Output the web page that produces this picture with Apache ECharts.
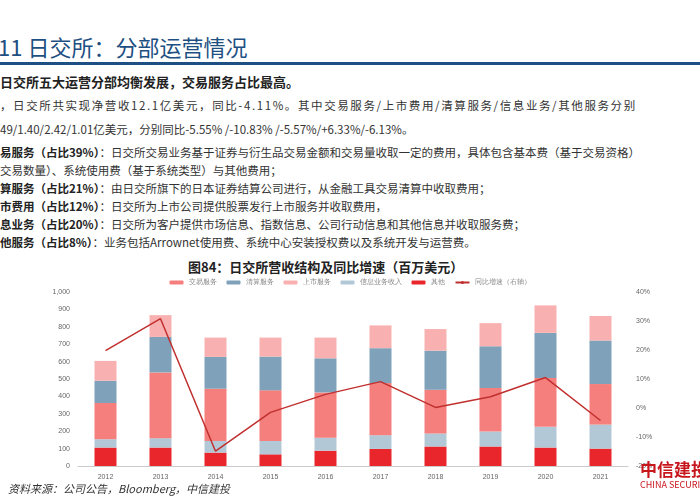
<!DOCTYPE html>
<html><head><meta charset="utf-8">
<script src="https://cdn.jsdelivr.net/npm/echarts@6/dist/echarts.min.js"></script>
<style>
body{margin:0;width:700px;height:500px;background:#fff;position:relative;overflow:hidden;font-family:"Noto Sans CJK SC",sans-serif;}
.t{position:absolute;white-space:nowrap;color:#333;font-size:11.5px;}
.b{font-weight:bold;color:#222;}
</style></head><body>
<div class="t" style="left:-8px;top:30px;font-size:22px;color:#1d4f82;">.11 日交所：分部运营情况</div>
<div style="position:absolute;left:0;top:62px;width:700px;height:3px;background:#1d4f82;"></div>
<div class="t b" style="left:0;top:72px;font-size:13px;">日交所五大运营分部均衡发展，交易服务占比最高。</div>
<div class="t" style="left:0;top:97px;letter-spacing:1.6px;">，日交所共实现净营收12.1亿美元，同比-4.11%。其中交易服务/上市费用/清算服务/信息业务/其他服务分别</div>
<div class="t" style="left:0;top:121px;">49/1.40/2.42/1.01亿美元，分别同比-5.55% /-10.83% /-5.57%/+6.33%/-6.13%。</div>
<div class="t" style="left:0;top:144px;"><span class="b">易服务（占比39%）</span>：日交所交易业务基于证券与衍生品交易金额和交易量收取一定的费用，具体包含基本费（基于交易资格）</div>
<div class="t" style="left:0;top:162px;">交易数量）、系统使用费（基于系统类型）与其他费用；</div>
<div class="t" style="left:0;top:180px;"><span class="b">算服务（占比21%）</span>：由日交所旗下的日本证券结算公司进行，从金融工具交易清算中收取费用；</div>
<div class="t" style="left:0;top:198px;"><span class="b">市费用（占比12%）</span>：日交所为上市公司提供股票发行上市服务并收取费用，</div>
<div class="t" style="left:0;top:216px;"><span class="b">息业务（占比20%）</span>：日交所为客户提供市场信息、指数信息、公司行动信息和其他信息并收取服务费；</div>
<div class="t" style="left:0;top:234px;"><span class="b">他服务（占比8%）</span>：业务包括Arrownet使用费、系统中心安装授权费以及系统开发与运营费。</div>
<div class="t b" style="left:188px;top:257px;font-size:13px;">图84：日交所营收结构及同比增速（百万美元）</div>
<div id="c" style="position:absolute;left:0;top:270px;width:700px;height:215px;"></div>
<div class="t" style="left:8px;top:480px;font-style:italic;font-size:11px;">资料来源：公司公告，Bloomberg，中信建投</div>
<div class="t b" style="left:640px;top:456px;font-size:17px;color:#c8161d;">中信建投</div>
<div class="t" style="left:640px;top:478px;font-size:9px;color:#c8161d;">CHINA SECURITIES</div>
<script>
var years=['2012','2013','2014','2015','2016','2017','2018','2019','2020','2021'];
var other=[106,106,77,67,88,98,112,112,106,100];
var info=[48,54,67,77,75,79,75,86,119,138];
var trade=[208,378,300,291,260,300,251,250,281,233];
var clearing=[128,204,183,194,196,200,225,240,259,250];
var listing=[114,125,111,109,119,131,124,133,158,141];
var growth=[19.8,30.8,-14.9,-1.5,4.7,9.1,0.2,3.9,10.5,-4.3];
var ch=echarts.init(document.getElementById('c'));
function bar(n,d,c){return{name:n,type:'bar',stack:'a',data:d,barWidth:22,itemStyle:{color:c}};}
var lab={fontSize:7,color:'#666'};
ch.setOption({
 animation:false,
 legend:{top:4,left:'center',itemWidth:14,itemHeight:4,itemGap:10,textStyle:{fontSize:7,color:'#888'},
  data:['交易服务','清算服务','上市服务','信息业务收入','其他','同比增速（右轴）']},
 grid:{left:78,right:72,top:22,bottom:19},
 xAxis:{type:'category',data:years,axisLine:{lineStyle:{color:'#ccc'}},axisTick:{show:false},axisLabel:lab},
 yAxis:[{type:'value',min:0,max:1000,interval:100,splitLine:{show:false},axisLabel:lab},
  {type:'value',min:-20,max:40,interval:10,splitLine:{show:false},axisLabel:Object.assign({formatter:'{value}%'},lab)}],
 series:[bar('其他',other,'#e8262b'),bar('信息业务收入',info,'#b3c8d6'),bar('交易服务',trade,'#f47f7c'),
  bar('清算服务',clearing,'#7fa2ba'),bar('上市服务',listing,'#f8b1b0'),
  {name:'同比增速（右轴）',type:'line',yAxisIndex:1,data:growth,symbol:'none',lineStyle:{color:'#c0302f',width:1.5},itemStyle:{color:'#c0302f'}}]
});
</script></body></html>
